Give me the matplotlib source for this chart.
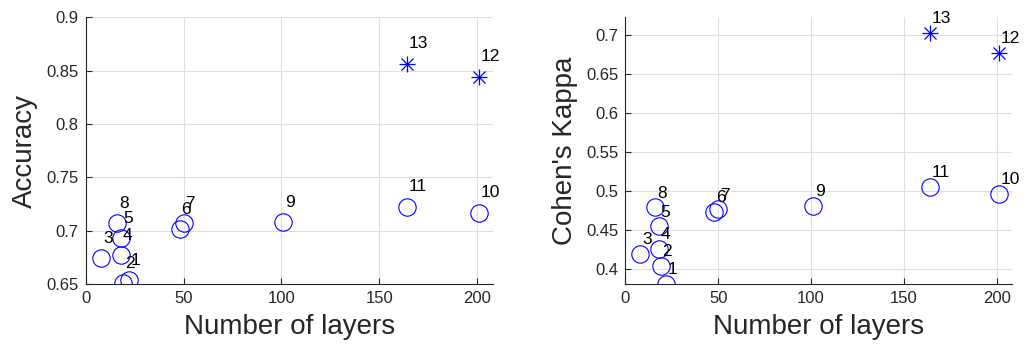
# Accuracy and Cohen's kappa vs network depth
import matplotlib.pyplot as plt
import numpy as np

plt.rcParams['font.family'] = ['Liberation Sans', 'DejaVu Sans']

labels = ['1', '2', '3', '4', '5', '6', '7', '8', '9', '10', '11', '12', '13']
layers = [22, 19, 8, 18, 18, 48, 50, 16, 101, 201, 164, 201, 164]
accuracy = [0.6537, 0.6505, 0.674, 0.6772, 0.6928, 0.7015, 0.7068, 0.7068,
            0.708, 0.7168, 0.7224, 0.8441, 0.8566]
kappa = [0.3812, 0.4046, 0.4196, 0.426, 0.455, 0.473, 0.4768, 0.4794,
         0.481, 0.4964, 0.5058, 0.6766, 0.7022]
# last two models drawn with asterisks
star = [False] * 11 + [True] * 2

ink = '#262626'
blue = (0, 0, 1)

fig = plt.figure(figsize=(10.3, 3.47), dpi=100)
ax1 = fig.add_axes([0.0832, 0.1816, 0.3951, 0.7686])
ax2 = fig.add_axes([0.6071, 0.1816, 0.3751, 0.7686])


def draw(ax, y, ylim, yticks, ylabel, dy):
    x = np.array(layers)
    y = np.array(y)
    s = np.array(star)
    ax.plot(x[~s], y[~s], 'o', ms=12.5, mfc='none', mec=blue, mew=0.8)
    # matlab style asterisk = plus + cross
    ax.plot(x[s], y[s], '+', ms=11, color=blue, mew=0.9)
    ax.plot(x[s], y[s], 'x', ms=8, color=blue, mew=0.9)
    for xi, yi, t in zip(x, y, labels):
        ax.text(xi + 1, yi + dy, t, fontsize=12.5, color='k',
                ha='left', va='center')
    ax.set_xlim(0, 208)
    ax.set_ylim(*ylim)
    ax.set_xticks([0, 50, 100, 150, 200])
    ax.set_yticks(yticks)
    ax.set_yticklabels([('%.2f' % v).rstrip('0') for v in yticks])
    ax.set_xlabel('Number of layers', fontsize=20, color=ink, labelpad=6)
    ax.set_ylabel(ylabel, fontsize=20, color=ink, labelpad=6)
    ax.grid(True, color='#dedede', lw=0.8)
    ax.set_axisbelow(True)
    for side in ['top', 'right']:
        ax.spines[side].set_visible(False)
    for side in ['left', 'bottom']:
        ax.spines[side].set_color(ink)
        ax.spines[side].set_linewidth(0.8)
    ax.tick_params(direction='in', length=4, width=0.8, colors=ink,
                   labelsize=12, pad=5)


draw(ax1, accuracy, (0.65, 0.9), [0.65, 0.7, 0.75, 0.8, 0.85, 0.9],
     'Accuracy', 0.0187)
draw(ax2, kappa, (0.3812, 0.7227), [0.4, 0.45, 0.5, 0.55, 0.6, 0.65, 0.7],
     "Cohen's Kappa", 0.0183)

fig.savefig('out.png', dpi=100)
